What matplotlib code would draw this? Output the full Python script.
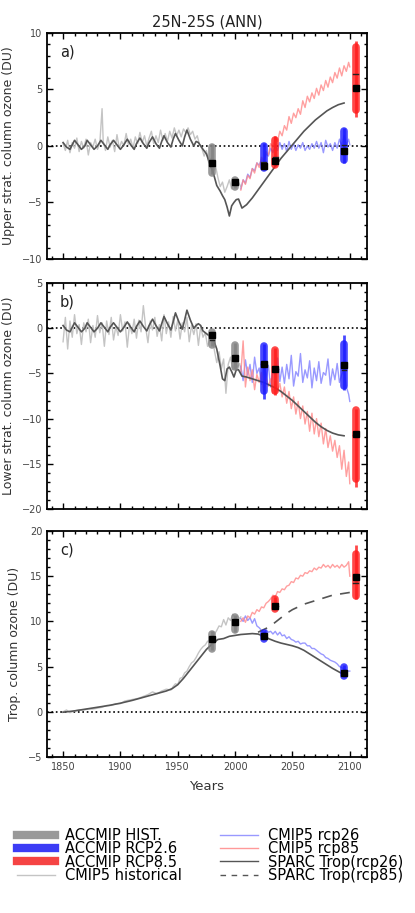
import matplotlib
matplotlib.use("Agg")
import matplotlib.pyplot as plt
from matplotlib.lines import Line2D
from matplotlib.ticker import MultipleLocator

# ---- CMIP5 historical (light grey) ----
hist_yrs_a = [1850, 1852, 1854, 1856, 1858, 1860, 1862, 1864, 1866, 1868, 1870, 1872, 1874, 1876, 1878, 1880,
              1882, 1884, 1885, 1887, 1889, 1891, 1893, 1895, 1897, 1899, 1901, 1903, 1905, 1907, 1909, 1911,
              1913, 1915, 1917, 1919, 1921, 1923, 1925, 1927, 1929, 1931, 1933, 1935, 1937, 1939, 1941, 1943,
              1945, 1947, 1949, 1951, 1953, 1955, 1957, 1959, 1961, 1963, 1965, 1967, 1969, 1971, 1973, 1975,
              1977, 1979, 1981, 1983, 1985, 1987, 1989, 1991, 1993, 1995, 1997, 1999, 2001, 2003, 2005]
hist_a = [0.2, -0.4, 0.5, -0.6, 0.3, -0.2, 0.7, -0.5, 0.4, -0.2, 0.6, -0.8, 0.3, -0.1, 0.6, -0.3,
          0.2, 3.3, 0.4, -0.4, 0.8, -0.1, 0.5, -0.5, 1.0, -0.2, 0.4, 0.0, 1.1, 0.1, 0.6, -0.2,
          0.8, 0.2, 1.2, 0.3, 0.9, 0.0, 0.7, 1.3, 0.2, 0.9, 0.3, 1.4, 0.5, 1.1, 0.4, 1.3,
          0.7, 1.6, 0.9, 1.4, 0.8, 1.5, 1.2, 1.6, 1.0, 1.3, 0.6, 0.9, 0.1, -0.2, -0.9, -0.4,
          -1.5, -1.1, -2.3, -1.8, -2.8, -3.6, -3.2, -4.1, -3.6, -3.0, -3.8, -3.1, -3.5, -3.2, -3.6]

hist_yrs_b = list(range(1850, 2005, 2)) + [2005]
hist_b = [-1.5, 1.2, -2.3, 0.8, -1.0, 1.5, -0.6, 0.4, -1.8, 0.6, -0.4, 1.0, -1.6, 0.3, -1.0, 1.4,
          -0.5, 0.6, -2.0, 0.8, -0.7, 1.2, -1.3, 0.2, -0.8, 1.5, -0.3, 0.7, -2.1, 0.5, -0.6, 1.0,
          -1.1, 0.9, -0.4, 2.5, 0.1, -1.6, 0.8, -0.2, 1.2, -0.9, 0.4, -1.4, 1.5, -0.6, 0.7, -1.0,
          1.3, -0.3, 0.9, -1.2, 0.6, -0.4, 1.2, -1.5, 0.3, -0.7, 0.5, -1.9, 0.2, -1.0, -0.5, -2.0,
          -1.2, -0.6, -2.5, -3.8, -2.6, -4.5, -3.4, -7.2, -4.0, -3.2, -4.6, -3.6, -4.3, -3.9, -4.8]

hist_yrs_c = [1850, 1853, 1856, 1860, 1864, 1868, 1872, 1876, 1880, 1884, 1888, 1892, 1896, 1900, 1904, 1908,
              1912, 1916, 1920, 1924, 1928, 1932, 1936, 1940, 1944, 1946, 1948, 1950, 1952, 1954, 1956, 1958,
              1960, 1962, 1964, 1966, 1968, 1970, 1972, 1974, 1976, 1978, 1980, 1982, 1984, 1986, 1988, 1990,
              1992, 1994, 1996, 1998, 2000, 2002, 2004, 2005]
hist_c = [0.0, 0.2, -0.1, 0.1, 0.2, 0.2, 0.3, 0.3, 0.4, 0.5, 0.7, 0.7, 0.9, 0.9, 1.2, 1.3,
          1.4, 1.5, 1.7, 1.9, 2.2, 2.0, 2.3, 2.5, 2.4, 2.8, 3.1, 3.0, 3.7, 3.8, 4.3, 4.5,
          5.0, 5.4, 5.6, 6.0, 6.5, 6.9, 7.2, 7.4, 7.8, 7.9, 8.3, 8.6, 9.0, 9.5, 9.4, 10.2,
          9.6, 10.4, 10.1, 10.8, 10.3, 10.6, 10.3, 10.5]

# ---- CMIP5 scenarios ----
fut_yrs = list(range(2005, 2100, 2)) + [2100]
rcp26_a = [-3.8, -3.0, -3.3, -2.5, -2.8, -2.0, -2.2, -1.5, -1.7, -1.2, -1.4, -0.7, -0.9, -0.2, -0.6, 0.1,
           -0.4, 0.3, -0.3, 0.2, -0.5, 0.4, -0.3, 0.2, -0.4, 0.1, -0.2, 0.3, -0.4, 0.0, -0.3, 0.2,
           -0.2, 0.4, -0.2, 0.3, -0.6, 0.5, -0.1, 0.2, -0.4, 0.3, -0.2, 0.6, 0.0, 0.9, 0.1, 0.6, 0.1]
rcp85_a = [-3.9, -3.0, -3.4, -2.6, -2.9, -2.0, -2.4, -1.5, -1.9, -1.0, -1.3, -0.5, -0.8, 0.2, -0.1, 0.8,
           0.4, 1.3, 0.9, 1.8, 1.4, 2.6, 2.0, 2.9, 2.5, 3.3, 2.8, 4.0, 3.4, 4.4, 3.9, 4.7,
           4.2, 5.1, 4.5, 5.4, 4.9, 5.8, 5.2, 6.1, 5.6, 6.5, 6.0, 6.9, 6.2, 7.1, 6.6, 7.4, 7.0]
rcp26_b = [-4.2, -5.8, -3.5, -5.2, -4.0, -6.0, -3.2, -5.0, -4.4, -6.2, -3.8, -5.5, -4.1, -6.5, -4.6, -5.1,
           -3.3, -5.9, -4.3, -6.1, -4.0, -5.6, -3.0, -6.4, -4.8, -5.3, -2.8, -6.0, -4.6, -5.5, -3.6, -6.6,
           -4.4, -5.8, -3.7, -6.1, -4.9, -5.2, -3.4, -6.3, -4.5, -5.7, -3.9, -6.0, -5.1, -4.6, -6.5, -7.3, -8.1]
rcp85_b = [-5.0, -1.4, -6.5, -4.3, -5.8, -4.6, -6.8, -5.1, -6.0, -4.9, -7.0, -5.5, -6.4, -5.6, -7.2, -5.9,
           -7.0, -6.1, -7.6, -6.5, -8.3, -7.0, -8.9, -7.6, -9.5, -8.1, -10.0, -8.6, -10.6, -9.2, -11.4, -9.4,
           -11.7, -10.0, -12.0, -10.5, -12.8, -11.1, -13.2, -11.9, -13.6, -12.4, -14.3, -13.0, -15.6, -13.5,
           -16.4, -14.8, -17.2]
rcp26_c = [10.3, 10.0, 10.6, 10.1, 10.4, 9.8, 10.3, 9.5, 9.3, 9.0, 8.6, 9.1, 8.8, 8.9, 8.6, 8.9,
           8.5, 8.8, 8.4, 8.5, 8.1, 8.3, 8.0, 7.9, 7.7, 7.8, 7.5, 7.6, 7.6, 7.3, 7.3, 7.0,
           7.0, 6.8, 6.6, 6.4, 6.3, 6.0, 5.9, 5.7, 5.6, 5.5, 5.3, 5.0, 4.9, 4.7, 4.6, 4.5, 4.5]
rcp85_c = [10.0, 10.4, 9.9, 10.6, 10.4, 11.0, 10.8, 11.3, 11.1, 11.6, 11.5, 12.0, 12.2, 12.5, 12.9, 12.7,
           13.3, 13.2, 13.6, 13.5, 13.9, 14.0, 14.4, 14.3, 14.8, 14.7, 15.1, 15.0, 15.4, 15.3, 15.6, 15.5,
           15.9, 15.7, 16.0, 15.9, 16.3, 16.0, 16.2, 15.9, 16.3, 16.0, 16.2, 15.9, 16.3, 16.0, 16.2, 16.6, 15.0]

# ---- SPARC ----
sparc_yrs_ab = [1850, 1853, 1856, 1858, 1860, 1863, 1866, 1869, 1871, 1874, 1877, 1880, 1883, 1886, 1889, 1891,
                1894, 1897, 1900, 1903, 1906, 1909, 1912, 1914, 1917, 1920, 1923, 1925, 1928, 1931, 1934, 1936,
                1938, 1941, 1944, 1946, 1948, 1951, 1954, 1956, 1958, 1961, 1964, 1966, 1968, 1970, 1972, 1975,
                1978, 1981, 1984, 1987, 1989, 1991, 1993, 1995, 1997, 1999, 2001, 2003, 2006,
                2010, 2015, 2020, 2025, 2030, 2035, 2040, 2045, 2050, 2055, 2060, 2065, 2070, 2075, 2080,
                2085, 2090, 2095]
sparc_a = [0.3, -0.1, -0.3, 0.1, 0.5, 0.1, -0.3, 0.0, 0.5, 0.1, -0.3, 0.0, 0.5, 0.1, -0.3, 0.1,
           0.5, 0.1, -0.3, 0.1, 0.6, 0.1, -0.3, 0.2, 0.7, 0.2, -0.2, 0.3, 0.8, 0.2, -0.2, 0.4,
           0.9, 0.3, -0.1, 0.6, 1.1, 0.5, 0.0, 0.8, 1.4, 0.6, 0.0, 0.4, 0.3, 0.0, -0.3, -0.7,
           -1.6, -2.4, -3.5, -4.0, -4.4, -4.75, -5.4, -6.2, -5.3, -5.0, -4.75, -4.7, -5.5,
           -5.2, -4.6, -3.9, -3.2, -2.5, -1.8, -1.1, -0.5, 0.1, 0.7, 1.3, 1.8, 2.3, 2.7, 3.1,
           3.4, 3.65, 3.8]
sparc_b = [0.3, -0.2, -0.4, 0.1, 0.6, 0.1, -0.4, 0.0, 0.6, 0.1, -0.4, 0.0, 0.6, 0.1, -0.4, 0.1,
           0.6, 0.1, -0.4, 0.1, 0.7, 0.1, -0.4, 0.2, 0.8, 0.2, -0.3, 0.3, 1.0, 0.3, -0.3, 0.5,
           1.3, 0.5, -0.2, 0.7, 1.7, 0.7, -0.1, 0.9, 2.0, 0.9, 0.0, 0.3, 0.5, 0.3, -0.3, -0.6,
           -0.9, -1.2, -2.3, -4.2, -5.6, -5.8, -4.5, -4.3, -4.8, -5.4, -4.6, -4.6, -5.3,
           -5.4, -5.6, -5.8, -6.0, -6.3, -6.6, -7.0, -7.5, -8.0, -8.6, -9.2, -9.8, -10.4, -10.9, -11.3,
           -11.6, -11.8, -11.9]
sparc_yrs_c = [1850, 1860, 1870, 1880, 1890, 1900, 1910, 1920, 1930, 1940, 1945, 1950, 1955, 1960, 1965, 1970,
               1975, 1980, 1985, 1990, 1995, 2000, 2005, 2010, 2015, 2020, 2025, 2030, 2035, 2040, 2045, 2050,
               2055, 2060, 2065, 2070, 2075, 2080, 2085, 2090, 2095]
sparc_c26 = [-0.05, 0.1, 0.3, 0.5, 0.7, 0.95, 1.25, 1.6, 1.95, 2.3, 2.55, 3.0, 3.7, 4.5, 5.3, 6.1,
             6.9, 7.5, 8.0, 8.1, 8.35, 8.45, 8.55, 8.6, 8.65, 8.6, 8.35, 8.05, 7.8, 7.6, 7.45, 7.3,
             7.1, 6.8, 6.4, 6.0, 5.6, 5.2, 4.8, 4.45, 4.1]
sparc_yrs_c85 = [2020, 2025, 2030, 2035, 2040, 2045, 2050, 2055, 2060, 2065, 2070, 2075, 2080, 2085, 2090, 2095, 2100]
sparc_c85 = [8.8, 9.1, 9.4, 9.9, 10.4, 10.9, 11.3, 11.6, 11.9, 12.1, 12.3, 12.5, 12.7, 12.9, 13.0, 13.1, 13.2]

# ---- ACCMIP boxes: year, whisker lo/hi, box lo/hi, mean, median ----
box_yrs = [1980, 2000, 2025, 2035, 2095, 2105]
box_kind = ["hist", "hist", "rcp26", "rcp85", "rcp26", "rcp85"]
box_a = [(-2.5, 0.2, -2.4, -0.1, -1.47, -1.5), (-3.7, -2.9, -3.6, -3.0, -3.15, -3.2),
         (-2.1, 0.3, -1.95, 0.0, -1.8, -1.4), (-1.8, 0.85, -1.65, 0.5, -1.35, -1.0),
         (-1.5, 1.6, -1.2, 1.3, -0.47, 0.1), (2.6, 9.3, 3.2, 8.8, 5.1, 6.4)]
box_b = [(-2.0, -0.3, -1.9, -0.4, -0.7, -1.3), (-4.5, -1.6, -4.3, -1.9, -3.27, -3.3),
         (-7.8, -1.7, -7.0, -2.0, -4.0, -4.0), (-7.4, -2.2, -7.0, -2.4, -4.55, -4.5),
         (-6.8, -0.8, -6.4, -1.7, -4.1, -4.6), (-17.6, -8.9, -16.7, -9.0, -11.7, -11.8)]
box_c = [(6.8, 8.9, 7.0, 8.6, 8.0, 8.0), (8.8, 10.7, 9.0, 10.5, 9.9, 9.9),
         (7.9, 8.9, 8.05, 8.7, 8.35, 8.4), (11.3, 12.7, 11.4, 12.5, 11.65, 11.7),
         (3.8, 5.2, 4.0, 5.0, 4.3, 4.5), (12.5, 18.4, 12.8, 17.5, 14.95, 14.2)]

box_col = {"hist": "#808080", "rcp26": "#1a1aff", "rcp85": "#ff1a1a"}
c_hist, c_26, c_85, c_sparc = "#c4c4c4", "#8080ff", "#ff8888", "#555555"

panels = [
    ("a)", "Upper strat. column ozone (DU)", (-10, 10), hist_yrs_a, hist_a, rcp26_a, rcp85_a, sparc_a, box_a),
    ("b)", "Lower strat. column ozone (DU)", (-20, 5), hist_yrs_b, hist_b, rcp26_b, rcp85_b, sparc_b, box_b),
    ("c)", "Trop. column ozone (DU)", (-5, 20), hist_yrs_c, hist_c, rcp26_c, rcp85_c, None, box_c),
]
tops = [0.9639, 0.6900, 0.4184]
h = 0.2475

fig = plt.figure(figsize=(4.15, 9.13), dpi=100)
for i, (lab, ylab, ylim, hy, hv, r26, r85, sp, boxes) in enumerate(panels):
    ax = fig.add_axes([0.1133, tops[i] - h, 0.771, h])
    ax.axhline(0, color="k", ls=":", lw=1.2)
    ax.plot(hy, hv, color=c_hist, lw=1)
    ax.plot(fut_yrs, r26, color=c_26, lw=1, alpha=0.8)
    ax.plot(fut_yrs, r85, color=c_85, lw=1, alpha=0.8)
    if sp is not None:
        ax.plot(sparc_yrs_ab, sp, color=c_sparc, lw=1.2)
    else:
        ax.plot(sparc_yrs_c, sparc_c26, color=c_sparc, lw=1.2)
        ax.plot(sparc_yrs_c85, sparc_c85, color=c_sparc, lw=1.2, ls=(0, (6, 5)))
    for x, kind, (wlo, whi, qlo, qhi, mean, med) in zip(box_yrs, box_kind, boxes):
        col = box_col[kind]
        ax.plot([x, x], [wlo, whi], color=col, lw=2, alpha=0.8, solid_capstyle="butt")
        ax.plot([x, x], [qlo, qhi], color=col, lw=5.5, alpha=0.8, solid_capstyle="round")
        ax.plot([x - 2, x + 2], [med, med], color="#222222", lw=1)
        ax.plot(x, mean, "s", color="k", ms=4)
    ax.set_xlim(1836, 2115)
    ax.set_ylim(*ylim)
    ax.xaxis.set_major_locator(MultipleLocator(50))
    ax.xaxis.set_minor_locator(MultipleLocator(10))
    ax.yaxis.set_major_locator(MultipleLocator(5))
    ax.yaxis.set_minor_locator(MultipleLocator(1))
    ax.tick_params(which="both", direction="in", top=True, right=True, labelsize=7,
                   labelcolor="#444444", width=1)
    ax.tick_params(which="major", length=4)
    ax.tick_params(which="minor", length=2)
    for s in ax.spines.values():
        s.set_linewidth(1.3)
    ax.set_ylabel(ylab, fontsize=9, color="#333333", labelpad=5)
    ax.text(0.04, 0.95, lab, transform=ax.transAxes, fontsize=10.5, va="top", color="#222222")
    if i < 2:
        ax.tick_params(labelbottom=False)
    else:
        ax.set_xlabel("Years", fontsize=9.5, color="#333333", labelpad=6)
    if i == 0:
        ax.set_title("25N-25S (ANN)", fontsize=10.5, color="#222222", pad=5)

handles = [
    Line2D([], [], color="#999999", lw=6),
    Line2D([], [], color="#3c3cf5", lw=6),
    Line2D([], [], color="#f54444", lw=6),
    Line2D([], [], color=c_hist, lw=1),
    Line2D([], [], color="#9999ff", lw=1),
    Line2D([], [], color="#ff9999", lw=1),
    Line2D([], [], color=c_sparc, lw=1),
    Line2D([], [], color=c_sparc, lw=1, ls=(0, (4, 4))),
]
labels = ["ACCMIP HIST.", "ACCMIP RCP2.6", "ACCMIP RCP8.5", "CMIP5 historical",
          "CMIP5 rcp26", "CMIP5 rcp85", "SPARC Trop(rcp26)", "SPARC Trop(rcp85)"]
fig.legend(handles, labels, ncol=2, loc="upper left", bbox_to_anchor=(0.041, 0.093),
           frameon=False, fontsize=10.5, handlelength=2.6, handletextpad=0.7,
           columnspacing=2.6, labelspacing=-0.12, borderpad=0, borderaxespad=0)

fig.savefig("out.png", dpi=100)
